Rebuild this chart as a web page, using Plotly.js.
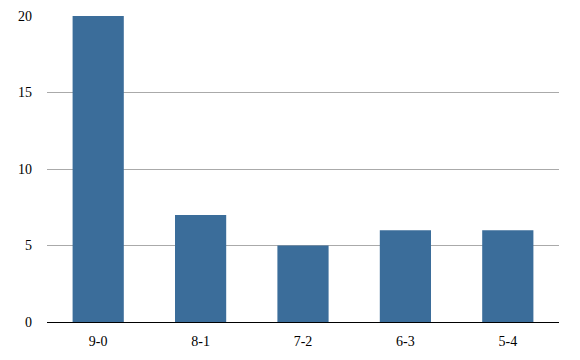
<!DOCTYPE html>
<html>
<head>
<meta charset="utf-8">
<script src="https://cdn.plot.ly/plotly-3.0.1.min.js"></script>
<style>html,body{margin:0;padding:0;background:#fff;}#chart{width:580px;height:360px;}</style>
</head>
<body>
<div id="chart"></div>
<script>
const categories = ["9-0", "8-1", "7-2", "6-3", "5-4"];
const counts = [20, 7, 5, 6, 6];
const tickValues = [0, 5, 10, 15, 20];

Plotly.newPlot("chart", [{
  type: "bar",
  x: categories,
  y: counts,
  marker: {color: "#3b6d9a"},
  width: 0.5,
  hoverinfo: "none"
}], {
  width: 580,
  height: 360,
  margin: {l: 47, r: 21, t: 16, b: 38},
  paper_bgcolor: "#fff",
  plot_bgcolor: "#fff",
  font: {family: "Georgia, 'Liberation Serif', 'DejaVu Serif', serif", size: 14, color: "#000"},
  showlegend: false,
  xaxis: {
    showgrid: false,
    showline: true,
    linecolor: "#000",
    linewidth: 1,
    ticks: "",
    zeroline: false,
    ticklabelstandoff: 6,
    fixedrange: true
  },
  yaxis: {
    range: [0, 20],
    tickvals: tickValues,
    ticktext: tickValues.map(String),
    showgrid: true,
    gridcolor: "#aaaaaa",
    gridwidth: 1,
    zeroline: false,
    showline: false,
    ticks: "",
    ticklabelstandoff: 14,
    fixedrange: true
  }
}, {displayModeBar: false, staticPlot: true});
</script>
</body>
</html>
